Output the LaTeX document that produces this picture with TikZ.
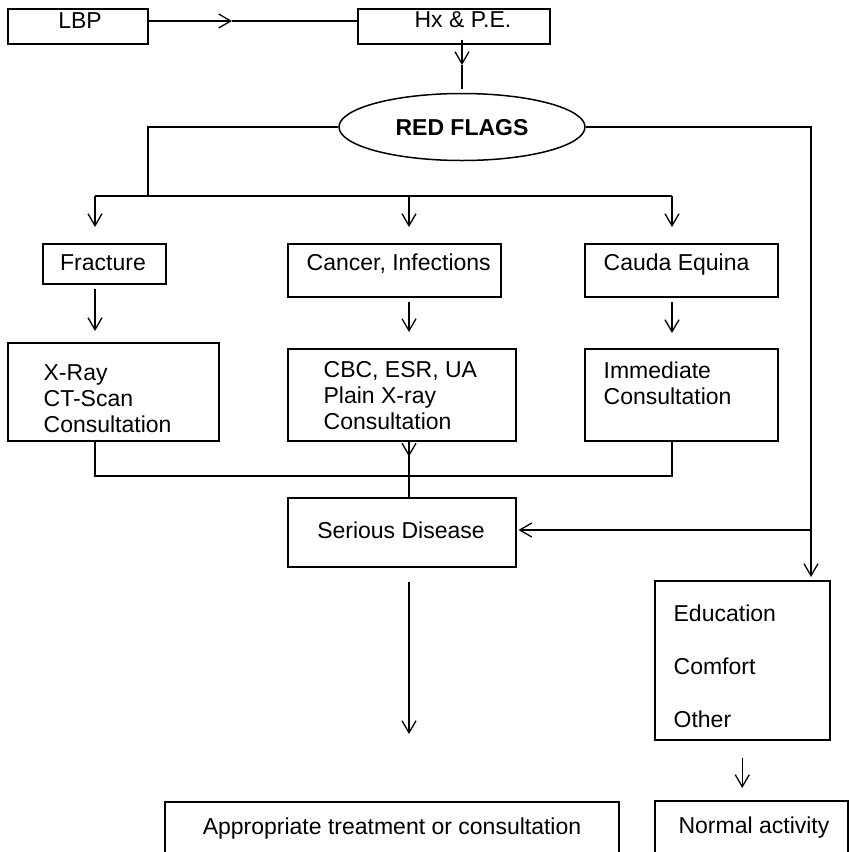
\documentclass[tikz,border=0pt]{standalone}
\usepackage{fontspec}
\setmainfont{Liberation Sans}
\usetikzlibrary{arrows.meta,positioning,calc,shapes.geometric}

\begin{document}
\begin{tikzpicture}[x=1pt,y=-1pt,
  line width=1.3pt,
  >={Straight Barb[length=12pt,width=14pt]},
  box/.style={draw, line width=1.5pt, inner sep=0pt, anchor=north west},
  txt/.style={inner sep=0pt, font=\fontsize{23}{26}\selectfont, text height=16.5pt, text depth=0pt},
  lines/.style={inner sep=0pt, align=left, anchor=north west, font=\fontsize{23}{26}\selectfont}]
  \useasboundingbox (0,0) rectangle (849,852);
  \clip (0,0) rectangle (849,852);

  % Top row
  \node[box, minimum width=140pt, minimum height=35pt] (lbp) at (7,8) {};
  \node[txt] (lbptxt) at (80,20) {LBP};
  \node[box, minimum width=192pt, minimum height=35pt] (hx) at (357,8) {};
  \node[txt] (hxtxt) at (463,19) {Hx \& P.E.};

  % Red flags
  \node[ellipse, draw, line width=1.5pt, inner sep=0pt, minimum width=246pt, minimum height=67pt,
    font=\bfseries\fontsize{23}{26}\selectfont, text height=16.5pt, text depth=0pt] (rf) at (462,127) {RED FLAGS};

  % Second row
  \node[box, minimum width=123pt, minimum height=40pt] (frac) at (42,243) {};
  \node[txt] (fractxt) at (103,262) {Fracture};
  \node[box, minimum width=213pt, minimum height=53pt] (canc) at (287,243) {};
  \node[txt, anchor=west] (canctxt) at (306,262) {Cancer, Infections};
  \node[box, minimum width=193pt, minimum height=53pt] (cauda) at (584,243) {};
  \node[txt, anchor=west] (caudatxt) at (603,262) {Cauda Equina};

  % Third row
  \node[box, minimum width=211pt, minimum height=98pt] (xray) at (7,342) {};
  \node[lines] (xraytxt) at (43,364) {X-Ray\\CT-Scan\\Consultation};
  \node[box, minimum width=228pt, minimum height=92pt] (cbc) at (287,348) {};
  \node[lines] (cbctxt) at (323,361) {CBC, ESR, UA\\Plain X-ray\\Consultation};
  \node[box, minimum width=193pt, minimum height=92pt] (imm) at (584,348) {};
  \node[lines] (immtxt) at (603,361) {Immediate\\Consultation};

  % Serious disease and education
  \node[box, minimum width=228pt, minimum height=69pt] (serious) at (287,497) {};
  \node[txt] (serioustxt) at (401,530) {Serious Disease};
  \node[box, minimum width=175pt, minimum height=159pt] (edu) at (654,580) {};
  \node[lines, font=\fontsize{23}{53}\selectfont] (edutxt) at (673,604) {Education\\Comfort\\Other};

  % Bottom row
  \node[box, minimum width=454pt, minimum height=80pt] (appr) at (164,801) {};
  \node[txt] (apprtxt) at (392,826) {Appropriate treatment or consultation};
  \node[box, minimum width=193pt, minimum height=80pt] (normal) at (654,800) {};
  \node[txt] (normaltxt) at (754,825) {Normal activity};

  % Connectors at the top
  \coordinate (a1) at (232,21);
  \coordinate (b1) at (462,65);
  \draw[->] (lbp.east |- a1) -- (a1);
  \draw (a1) -- (hx.west |- a1);
  \draw[->, shorten <=-5pt] (rf.north |- hx.south) -- (b1);
  \draw[shorten >=4pt] (b1) -- (rf.north);

  % Branches to the three red flags
  \coordinate (br) at (148,196);
  \coordinate (c1) at (95,196);
  \coordinate (c2) at (409,196);
  \coordinate (c3) at (672,196);
  \draw (rf.west) -| (br);
  \draw (c1) -- (c3);
  \foreach \c/\b in {c1/frac, c2/canc, c3/cauda}
    \draw[->, shorten >=16pt] (\c) -- (\b.north -| \c);
  \foreach \a/\b/\c/\s in {frac/xray/c1/11pt, canc/cbc/c2/16pt, cauda/imm/c3/15pt}
    \draw[->, shorten <=4pt, shorten >=\s] (\a.south -| \c) -- (\b.north -| \c);

  % Joining into serious disease
  \coordinate (j1) at (409,476);
  \draw (xray.south -| c1) |- (j1) -| (imm.south -| c3);
  \draw (cbc.south -| c2) -- (serious.north -| c2);
  \draw[->] (cbc.south -| c2) -- ++(0,15);
  \draw[->, shorten <=14pt, shorten >=67pt] (serious.south -| c2) -- (appr.north -| c2);

  % Right side
  \coordinate (r1) at (811,530);
  \draw (rf.east) -| (r1);
  \draw[->, shorten >=3pt] (r1) -- (edu.north -| r1);
  \draw[->, shorten >=2pt] (r1) -- (serious.east |- r1);
  \draw[->, shorten <=17pt, shorten >=12pt] (edu.south) -- (normal.north -| edu.south);
\end{tikzpicture}
\end{document}
